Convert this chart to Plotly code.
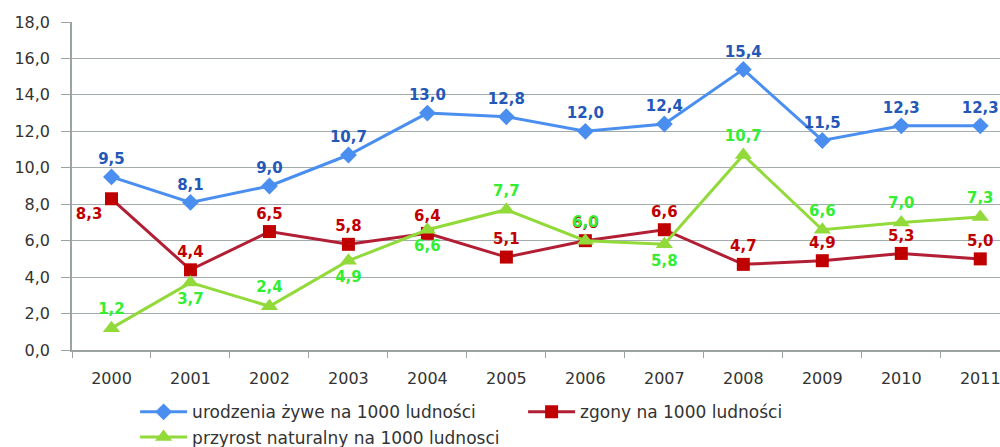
import plotly.graph_objects as go

# Dane
lata = ["2000", "2001", "2002", "2003", "2004", "2005", "2006", "2007", "2008", "2009", "2010", "2011"]
urodzenia = [9.5, 8.1, 9.0, 10.7, 13.0, 12.8, 12.0, 12.4, 15.4, 11.5, 12.3, 12.3]
zgony = [8.3, 4.4, 6.5, 5.8, 6.4, 5.1, 6.0, 6.6, 4.7, 4.9, 5.3, 5.0]
przyrost = [1.2, 3.7, 2.4, 4.9, 6.6, 7.7, 6.0, 5.8, 10.7, 6.6, 7.0, 7.3]

# Położenie etykiet danych
poz_zgony = ["bottom left"] + ["top center"] * 11
poz_przyrost = ["top center", "bottom center", "top center", "bottom center", "bottom center",
                "top center", "top center", "bottom center", "top center", "top center",
                "top center", "top center"]


def etykiety(vals):
    return [f"{v:.1f}".replace(".", ",") for v in vals]


FONT = "DejaVu Sans"

fig = go.Figure()

fig.add_trace(go.Scatter(
    x=lata, y=urodzenia, name="urodzenia żywe na 1000 ludności",
    mode="lines+markers+text",
    line=dict(color="#4a8ff0", width=3),
    marker=dict(symbol="diamond", size=13, color="#4a8ff0"),
    text=etykiety(urodzenia), textposition="top center",
    textfont=dict(family=FONT, size=15, color="#2458b8", weight="bold"),
    cliponaxis=False,
))

fig.add_trace(go.Scatter(
    x=lata, y=zgony, name="zgony na 1000 ludności",
    mode="lines+markers+text",
    line=dict(color="#b21f35", width=3),
    marker=dict(symbol="square", size=13, color="#c00000"),
    text=etykiety(zgony), textposition=poz_zgony,
    textfont=dict(family=FONT, size=15, color="#c00000", weight="bold"),
    cliponaxis=False,
))

fig.add_trace(go.Scatter(
    x=lata, y=przyrost, name="przyrost naturalny na 1000 ludnosci",
    mode="lines+markers+text",
    line=dict(color="#92d93a", width=3),
    marker=dict(symbol="triangle-up", size=15, color="#92d93a"),
    text=etykiety(przyrost), textposition=poz_przyrost,
    textfont=dict(family=FONT, size=15, color="#33ee33", weight="bold"),
    cliponaxis=False,
))

# Wykres jest wyższy niż okno: dół drugiego wiersza legendy jest ucięty jak w oryginale
fig.update_layout(
    width=1000, height=470,
    margin=dict(l=72, r=0, t=22, b=120),
    paper_bgcolor="white", plot_bgcolor="white",
    font=dict(family=FONT, size=15, color="#333333"),
    separators=", ",
    showlegend=True,
    legend=dict(
        orientation="h", x=0.068, xanchor="left", y=-0.135, yanchor="top",
        entrywidth=326, entrywidthmode="pixels", itemwidth=47,
        font=dict(family=FONT, size=17, color="#333333"),
        tracegroupgap=0,
    ),
    xaxis=dict(
        type="category", range=[-0.5, 11.25], automargin=False,
        tickson="boundaries", ticks="outside", ticklen=6, tickcolor="#9aa2a2",
        showline=True, linecolor="#9aa2a2", linewidth=1.5,
        showgrid=False, ticklabelstandoff=13,
        tickfont=dict(family=FONT, size=16, color="#333333"),
    ),
    yaxis=dict(
        range=[0, 18], dtick=2, tickformat=".1f", automargin=False,
        ticks="outside", ticklen=9, tickcolor="#9aa2a2",
        showline=True, linecolor="#9aa2a2", linewidth=1.5,
        showgrid=True, gridcolor="#a4acac", gridwidth=1,
        zeroline=False, ticklabelstandoff=8,
        tickfont=dict(family=FONT, size=16, color="#333333"),
    ),
)

fig.write_html(
    "out.html",
    config={"displayModeBar": False},
    post_script="document.body.style.margin='0';document.body.style.overflow='hidden';",
)
